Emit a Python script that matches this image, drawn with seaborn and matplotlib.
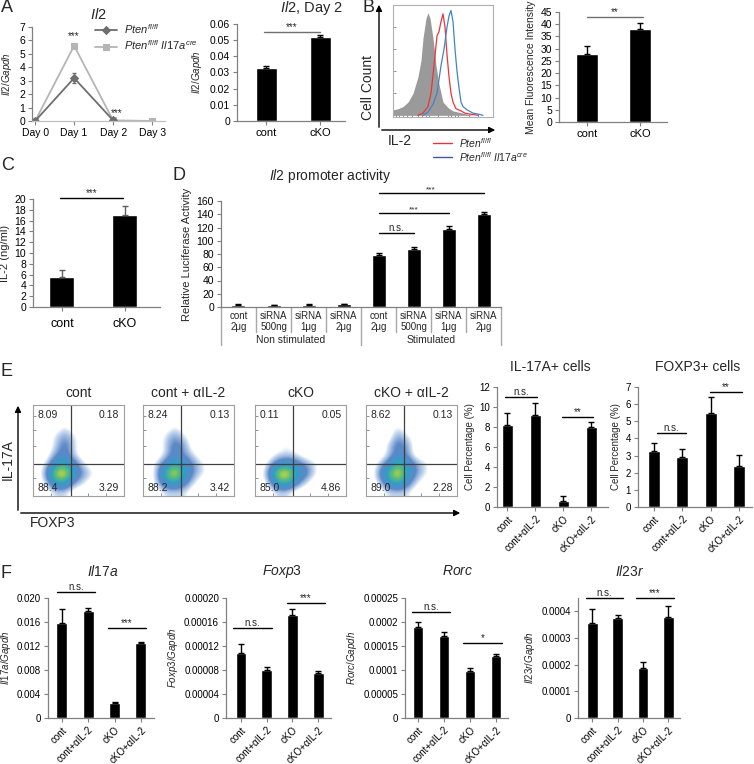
import numpy as np
import matplotlib
matplotlib.use("Agg")
import matplotlib.pyplot as plt
import seaborn as sns
from matplotlib.colors import LinearSegmentedColormap
from matplotlib.patches import FancyArrowPatch
from matplotlib.lines import Line2D

# ---- donnees ----
# A : cinetique Il2
days = ["Day 0", "Day 1", "Day 2", "Day 3"]
il2_ctrl = [0.0, 3.2, 0.05]
il2_ctrl_err = [0.0, 0.35, 0.0]
il2_cko = [0.0, 5.6, 0.05, 0.0]
il2_day2 = [0.033, 0.052]
il2_day2_err = [0.001, 0.001]

# B : histogramme IL-2 (position en % de l'axe, hauteur relative)
grey_x = [0, 5, 10, 15, 20, 25, 28, 30, 33, 35, 37, 40, 43, 46, 50, 55, 60, 65, 70, 75, 80]
grey_y = [0.05, 0.06, 0.08, 0.12, 0.2, 0.35, 0.5, 0.7, 0.88, 0.93, 0.88, 0.7, 0.45, 0.28, 0.12, 0.07, 0.04, 0.03, 0.02, 0.01, 0.0]
red_x = [25, 30, 35, 38, 41, 44, 46, 48, 50, 52, 54, 56, 58, 60, 63, 68, 72, 78, 85]
red_y = [0.0, 0.02, 0.08, 0.2, 0.45, 0.72, 0.76, 0.85, 0.92, 0.8, 0.55, 0.35, 0.2, 0.12, 0.06, 0.04, 0.02, 0.01, 0.0]
blue_x = [30, 35, 40, 44, 48, 51, 54, 56, 58, 60, 62, 64, 66, 68, 70, 74, 80, 86, 90]
blue_y = [0.0, 0.03, 0.1, 0.2, 0.45, 0.6, 0.8, 0.9, 0.95, 0.85, 0.6, 0.4, 0.25, 0.12, 0.08, 0.05, 0.02, 0.01, 0.0]
mfi = [28, 38]
mfi_err = [3, 2.5]

# C : IL-2 ELISA
elisa = [5.6, 17.0]
elisa_err = [1.3, 1.7]

# D : activite du promoteur Il2
luc = [3.5, 3.2, 3.5, 4.5, 79, 87, 118, 140]
luc_err = [0.5, 0.5, 0.5, 0.6, 3, 4, 5, 3]
luc_labels = ["cont\n2μg", "siRNA\n500ng", "siRNA\n1μg", "siRNA\n2μg"] * 2

# E : cytometrie
flow_titles = ["cont", "cont + αIL-2", "cKO", "cKO + αIL-2"]
flow_quads = [["8.09", "0.18", "88.4", "3.29"],
              ["8.24", "0.13", "88.2", "3.42"],
              ["0.11", "0.05", "85.0", "4.86"],
              ["8.62", "0.13", "89.0", "2.28"]]
flow_cont = [[0, 0, 0, 0, 0, 0, 0, 0, 0, 0],
             [0, 0, 0, 0, 0, 0, 0, 0, 0, 0],
             [0, 0, 0, 1, 0, 0, 0, 0, 0, 0],
             [0, 0, 1, 2, 1, 0, 0, 0, 0, 0],
             [0, 0, 1, 3, 1, 0, 0, 0, 0, 0],
             [0, 0, 2, 3, 1, 0, 0, 0, 0, 0],
             [0, 1, 4, 5, 3, 1, 0, 0, 0, 0],
             [0, 2, 8, 9, 4, 2, 1, 0, 0, 0],
             [0, 1, 5, 5, 2, 1, 0, 0, 0, 0],
             [0, 0, 1, 1, 0, 0, 0, 0, 0, 0]]
flow_cont_ab = [[0, 0, 0, 0, 0, 0, 0, 0, 0, 0],
                [0, 0, 0, 0, 0, 0, 0, 0, 0, 0],
                [0, 0, 0, 1, 0, 0, 0, 0, 0, 0],
                [0, 0, 1, 2, 1, 0, 0, 0, 0, 0],
                [0, 0, 1, 3, 2, 0, 0, 0, 0, 0],
                [0, 0, 1, 3, 2, 1, 0, 0, 0, 0],
                [0, 1, 3, 5, 4, 2, 1, 0, 0, 0],
                [0, 1, 6, 9, 5, 2, 1, 0, 0, 0],
                [0, 1, 4, 5, 3, 1, 0, 0, 0, 0],
                [0, 0, 1, 1, 1, 0, 0, 0, 0, 0]]
flow_cko = [[0, 0, 0, 0, 0, 0, 0, 0, 0, 0],
            [0, 0, 0, 0, 0, 0, 0, 0, 0, 0],
            [0, 0, 0, 0, 0, 0, 0, 0, 0, 0],
            [0, 0, 0, 0, 0, 0, 0, 0, 0, 0],
            [0, 0, 0, 1, 0, 0, 0, 0, 0, 0],
            [0, 0, 1, 1, 1, 0, 0, 0, 0, 0],
            [0, 1, 3, 4, 3, 2, 1, 0, 0, 0],
            [0, 2, 8, 9, 5, 3, 1, 0, 0, 0],
            [0, 1, 5, 6, 3, 1, 0, 0, 0, 0],
            [0, 0, 1, 1, 0, 0, 0, 0, 0, 0]]
flow_cko_ab = [[0, 0, 0, 0, 0, 0, 0, 0, 0, 0],
               [0, 0, 0, 0, 0, 0, 0, 0, 0, 0],
               [0, 0, 0, 1, 0, 0, 0, 0, 0, 0],
               [0, 0, 0, 2, 1, 0, 0, 0, 0, 0],
               [0, 0, 1, 3, 2, 0, 0, 0, 0, 0],
               [0, 0, 1, 3, 2, 0, 0, 0, 0, 0],
               [0, 1, 3, 6, 4, 2, 1, 0, 0, 0],
               [0, 2, 6, 9, 5, 2, 1, 0, 0, 0],
               [0, 1, 4, 6, 3, 1, 0, 0, 0, 0],
               [0, 0, 1, 1, 1, 0, 0, 0, 0, 0]]
flow_grids = [flow_cont, flow_cont_ab, flow_cko, flow_cko_ab]

groups = ["cont", "cont+αIL-2", "cKO", "cKO+αIL-2"]
il17a_pos = [8.2, 9.2, 0.6, 8.0]
il17a_pos_err = [1.2, 1.2, 0.5, 0.5]
foxp3_pos = [3.27, 2.92, 5.5, 2.4]
foxp3_pos_err = [0.47, 0.48, 0.93, 0.64]

# F : qPCR
il17a = [0.0158, 0.0178, 0.0025, 0.0125]
il17a_err = [0.0024, 0.0005, 0.0002, 0.0002]
foxp3 = [0.000108, 0.00008, 0.000172, 0.000075]
foxp3_err = [0.000015, 0.000005, 0.00001, 0.000003]
rorc = [0.00019, 0.00017, 0.000097, 0.00013]
rorc_err = [0.00001, 0.00001, 0.000008, 0.000004]
il23r = [0.000355, 0.000374, 0.000187, 0.00038]
il23r_err = [0.000055, 0.000011, 0.000023, 0.00004]

# ---- style ----
sns.set_style("ticks")
plt.rcParams["font.family"] = ["Liberation Sans", "DejaVu Sans"]
plt.rcParams["mathtext.fontset"] = "custom"
plt.rcParams["mathtext.it"] = "Liberation Sans:italic"
plt.rcParams["mathtext.rm"] = "Liberation Sans"

W, H = 754, 764
fig = plt.figure(figsize=(W / 100, H / 100), dpi=100)


def box(x0, y0, x1, y1):
    # rectangle en pixels (origine en haut a gauche)
    return [x0 / W, 1 - y1 / H, (x1 - x0) / W, (y1 - y0) / H]


def fpt(x, y):
    return (x / W, 1 - y / H)


def style(ax, lab=7.5):
    for s in ["top", "right"]:
        ax.spines[s].set_visible(False)
    for s in ["left", "bottom"]:
        ax.spines[s].set_color("#808080")
        ax.spines[s].set_linewidth(0.9)
    ax.tick_params(colors="#808080", labelcolor="black", length=3, width=0.8, labelsize=lab, pad=2)


def bars(ax, vals, errs, width, ecolor="black"):
    n = len(vals)
    sns.barplot(x=list(range(n)), y=vals, color="black", width=width, ax=ax,
                errorbar=None, saturation=1)
    ax.errorbar(range(n), vals, yerr=[[0] * n, errs], fmt="none", ecolor=ecolor,
                elinewidth=1, capsize=2, capthick=1)


def sig(ax, x0, x1, y, txt, color="black", fs=7):
    ax.plot([x0, x1], [y, y], color=color, lw=1, clip_on=False)
    ax.text((x0 + x1) / 2, y, txt, ha="center", va="bottom", fontsize=fs, clip_on=False)


def letter(x, y, s):
    fig.text(*fpt(x, y), s, fontsize=13, va="center", ha="left")


def arrow(p0, p1):
    fig.add_artist(FancyArrowPatch(fpt(*p0), fpt(*p1), transform=fig.transFigure,
                                   arrowstyle="-|>", mutation_scale=9, color="black", lw=1))


# ---- A : cinetique ----
letter(1, 8, "A")
ax = fig.add_axes(box(32, 27, 165, 121))
sns.lineplot(x=[0, 1, 2, 3], y=il2_cko, color="#b5b5b5", marker="s", markersize=5,
             markeredgecolor="#b5b5b5", lw=1.3, ax=ax, label=r"$Pten^{fl/fl}\ Il17a^{cre}$")
sns.lineplot(x=[0, 1, 2], y=il2_ctrl, color="#6e6e6e", marker="D", markersize=4,
             markeredgecolor="#6e6e6e", lw=1.3, ax=ax, label=r"$Pten^{fl/fl}$")
ax.errorbar([0, 1, 2], il2_ctrl, yerr=il2_ctrl_err, fmt="none", ecolor="#6e6e6e", elinewidth=1, capsize=1.5)
style(ax)
ax.set_xlim(-0.08, 3.33)
ax.set_ylim(0, 7)
ax.set_yticks(range(8))
ax.set_xticks([0, 1, 2, 3])
ax.set_xticklabels(days)
ax.spines["bottom"].set_color("#c0c0c0")
ax.set_ylabel(r"$Il2/Gapdh$", fontsize=7, labelpad=4)
ax.set_title(r"$Il2$", fontsize=10.5, pad=6)
ax.text(1, 6.1, "***", ha="center", fontsize=7)
ax.text(2.1, 0.4, "***", ha="center", fontsize=7)
h, l = ax.get_legend_handles_labels()
ax.legend(h[::-1], l[::-1], loc="upper left", bbox_to_anchor=(0.44, 1.1), frameon=False,
          fontsize=8, handlelength=2.0, handletextpad=0.6, labelspacing=0.25, borderaxespad=0)

ax = fig.add_axes(box(237, 24, 345, 121))
bars(ax, il2_day2, il2_day2_err, 0.39)
style(ax)
ax.set_xlim(-0.54, 1.46)
ax.set_ylim(0, 0.06)
ax.set_yticks(np.arange(0, 0.061, 0.01))
ax.set_yticklabels(["0", "0.01", "0.02", "0.03", "0.04", "0.05", "0.06"])
ax.set_xticklabels(["cont", "cKO"], fontsize=8)
ax.set_ylabel(r"$Il2/Gapdh$", fontsize=7, labelpad=4)
fig.text(*fpt(312, 8), r"$Il2$, Day 2", fontsize=10.5, ha="center", va="center")
sig(ax, -0.04, 1.0, 0.055, "***", color="#707070")

# ---- B : histogramme ----
letter(362, 8, "B")
ax = fig.add_axes(box(393, 5, 493, 117))
ax.fill_between(grey_x, grey_y, color="#9a9a9a", lw=0)
sns.lineplot(x=red_x, y=red_y, color="#e8353c", lw=0.9, ax=ax, sort=False)
sns.lineplot(x=blue_x, y=blue_y, color="#3f84c6", lw=0.9, ax=ax, sort=False)
ax.set_xlim(0, 100)
ax.set_ylim(-0.015, 1.0)
for s in ax.spines.values():
    s.set_color("#b0b0b0")
    s.set_linewidth(0.8)
ax.set_xticks([3, 6, 10, 14, 19, 25, 29, 33, 36, 45, 55, 58, 62, 65, 76, 85])
ax.set_yticks([0, 0.2, 0.4, 0.6, 0.8])
ax.tick_params(direction="in", length=2, width=0.6, colors="#808080",
               labelbottom=False, labelleft=False)
ax.set_xlabel("")
ax.set_ylabel("")
arrow((379, 130), (379, 2))
arrow((379, 130), (498, 130))
fig.text(*fpt(368, 87), "Cell Count", rotation=90, fontsize=10, ha="center", va="center")
fig.text(*fpt(400, 141), "IL-2", fontsize=10, ha="center", va="center")
fig.add_artist(Line2D([433 / W, 452 / W], [1 - 143 / H] * 2, color="#e8353c", lw=1))
fig.add_artist(Line2D([433 / W, 452 / W], [1 - 157 / H] * 2, color="#3f5a9c", lw=1))
fig.text(*fpt(459, 143), r"$Pten^{fl/fl}$", fontsize=7.5, va="center")
fig.text(*fpt(459, 157), r"$Pten^{fl/fl}\ Il17a^{cre}$", fontsize=7.5, va="center")

ax = fig.add_axes(box(559, 12, 667, 122))
bars(ax, mfi, mfi_err, 0.4)
style(ax)
ax.set_xlim(-0.53, 1.51)
ax.set_ylim(0, 45)
ax.set_yticks(range(0, 46, 5))
ax.set_xticklabels(["cont", "cKO"], fontsize=8)
ax.set_ylabel("Mean Fluorescence Intensity", fontsize=7.5, labelpad=3)
sig(ax, 0, 1.05, 43, "**", color="#707070")

# ---- C : ELISA ----
letter(1, 165, "C")
ax = fig.add_axes(box(33, 199, 160, 307))
bars(ax, elisa, elisa_err, 0.4, ecolor="#606060")
style(ax)
ax.set_xlim(-0.46, 1.56)
ax.set_ylim(0, 20)
ax.set_yticks(range(0, 21, 2))
ax.set_xticklabels(["cont", "cKO"], fontsize=9)
ax.tick_params(axis="x", pad=5)
ax.set_ylabel("IL-2 (ng/ml)", fontsize=8, labelpad=3)
sig(ax, -0.03, 0.97, 20.2, "***")

# ---- D : luciferase ----
letter(173, 176, "D")
ax = fig.add_axes(box(221, 201, 501, 307))
bars(ax, luc, luc_err, 0.4)
style(ax)
ax.set_xlim(-0.5, 7.5)
ax.set_ylim(0, 160)
ax.set_yticks(range(0, 161, 20))
ax.set_xticks([])
ax.set_ylabel("Relative Luciferase Activity", fontsize=8, labelpad=3)
fig.text(*fpt(330, 176), r"$Il2$ promoter activity", fontsize=10, ha="center", va="center")
sig(ax, 4, 5, 111.7, "n.s.")
sig(ax, 4, 6, 141.9, "***", fs=6)
sig(ax, 4, 7, 172, "***", fs=6)
tr = ax.get_xaxis_transform()
for i, lab in enumerate(luc_labels):
    ax.text(i, -0.135, lab, transform=tr, ha="center", va="center", fontsize=7,
            linespacing=1.05, clip_on=False)
for k in range(9):
    low = -0.36 if k in (0, 4, 8) else -0.24
    ax.plot([k - 0.5, k - 0.5], [0, low], transform=tr, color="#a8a8a8", lw=1, clip_on=False)
ax.text(1.5, -0.31, "Non stimulated", transform=tr, ha="center", va="center", fontsize=7.5)
ax.text(5.5, -0.31, "Stimulated", transform=tr, ha="center", va="center", fontsize=7.5)

# ---- E : cytometrie ----
letter(1, 372, "E")
flow_cmap = LinearSegmentedColormap.from_list(
    "flow", [(0, "white"), (0.07, "white"), (0.12, "#c4d7ee"), (0.25, "#5d88c8"), (0.5, "#2f9fc6"),
             (0.7, "#5fbf74"), (0.85, "#d6d63a"), (1, "#f0a040")])
flow_x = [33, 143, 255, 366]
for i, x0 in enumerate(flow_x):
    ax = fig.add_axes(box(x0, 405, x0 + 91, 496))
    ax.imshow(flow_grids[i], extent=(0, 1, 0, 1), origin="upper", cmap=flow_cmap,
              vmin=0, vmax=9, interpolation="bicubic", aspect="auto")
    ax.axvline(0.42, color="#404040", lw=0.9)
    ax.axhline(0.35, color="#404040", lw=0.9)
    ax.set_xlim(0, 1)
    ax.set_ylim(0, 1)
    for s in ax.spines.values():
        s.set_color("#a0a0a0")
        s.set_linewidth(0.8)
    ax.set_xticks([0.2, 0.42, 0.6, 0.8])
    ax.set_yticks([0.2, 0.35, 0.55, 0.72, 0.88])
    ax.tick_params(direction="in", length=2, width=0.6, colors="#808080",
                   labelbottom=False, labelleft=False)
    q = flow_quads[i]
    ax.text(0.05, 0.95, q[0], fontsize=7.5, va="top", ha="left")
    ax.text(0.95, 0.95, q[1], fontsize=7.5, va="top", ha="right")
    ax.text(0.05, 0.03, q[2], fontsize=7.5, va="bottom", ha="left")
    ax.text(0.95, 0.03, q[3], fontsize=7.5, va="bottom", ha="right")
    ax.set_title(flow_titles[i], fontsize=10, pad=6)
arrow((18, 513), (18, 403))
arrow((18, 513), (463, 513))
fig.text(*fpt(8, 460), "IL-17A", rotation=90, fontsize=10, ha="center", va="center")
fig.text(*fpt(30, 523), "FOXP3", fontsize=10, ha="left", va="center")

ax = fig.add_axes(box(497, 387, 608, 507))
bars(ax, il17a_pos, il17a_pos_err, 0.4)
style(ax, 7)
ax.set_xlim(-0.375, 3.59)
ax.set_ylim(0, 12)
ax.set_yticks(range(0, 13, 2))
ax.set_xticklabels(groups, rotation=45, ha="right", rotation_mode="anchor", fontsize=7)
ax.set_ylabel("Cell Percentage (%)", fontsize=7, labelpad=3)
fig.text(*fpt(550, 367), "IL-17A+ cells", fontsize=10, ha="center", va="center")
sig(ax, -0.1, 1.05, 11, "n.s.")
sig(ax, 1.95, 3.05, 9.0, "**")

ax = fig.add_axes(box(638, 387, 752, 507))
bars(ax, foxp3_pos, foxp3_pos_err, 0.42)
style(ax, 7)
ax.set_xlim(-0.57, 3.46)
ax.set_ylim(0, 7)
ax.set_yticks(range(0, 8))
ax.set_xticklabels(groups, rotation=45, ha="right", rotation_mode="anchor", fontsize=7)
ax.set_ylabel("Cell Percentage (%)", fontsize=7, labelpad=3)
fig.text(*fpt(698, 367), "FOXP3+ cells", fontsize=10, ha="center", va="center")
sig(ax, 0.1, 1.13, 4.3, "n.s.")
sig(ax, 1.98, 3.1, 6.7, "**")

# ---- F : qPCR ----
letter(1, 573, "F")
f_panels = [
    (48, 154, (-0.53, 3.5), il17a, il17a_err, 0.020, [0, 0.004, 0.008, 0.012, 0.016, 0.020],
     ["0", "0.004", "0.008", "0.012", "0.016", "0.020"], r"$Il17a/Gapdh$", r"$Il17a$", 103,
     [(-0.19, 1.25, 0.021, "n.s."), (1.75, 3.19, 0.015, "***")]),
    (226, 331, (-0.58, 3.5), foxp3, foxp3_err, 0.0002, [0, 0.00004, 0.00008, 0.00012, 0.00016, 0.0002],
     ["0", "0.00004", "0.00008", "0.00012", "0.00016", "0.00020"], r"$Foxp3/Gapdh$", r"$Foxp3$", 282,
     [(-0.3, 1.2, 0.00015, "n.s."), (1.79, 3.27, 0.000192, "***")]),
    (405, 508, (-0.5, 3.46), rorc, rorc_err, 0.00025, [0, 0.00005, 0.0001, 0.00015, 0.0002, 0.00025],
     ["0", "0.00005", "0.0001", "0.00015", "0.0002", "0.00025"], r"$Rorc/Gapdh$", r"$Rorc$", 458,
     [(-0.23, 1.23, 0.00022, "n.s."), (1.73, 3.23, 0.000157, "*")]),
    (578, 680, (-0.57, 3.46), il23r, il23r_err, 0.00045, [0, 0.0001, 0.0002, 0.0003, 0.0004],
     ["0", "0.0001", "0.0002", "0.0003", "0.0004"], r"$Il23r/Gapdh$", r"$Il23r$", 630,
     [(-0.26, 1.2, 0.00045, "n.s."), (1.72, 3.22, 0.00045, "***")]),
]
for x0, x1, xl, vals, errs, ytop, yt, ytl, ylab, title, tx, sigs in f_panels:
    ax = fig.add_axes(box(x0, 598, x1, 718))
    bars(ax, vals, errs, 0.42)
    style(ax, 7)
    ax.set_xlim(*xl)
    ax.set_ylim(0, ytop)
    ax.set_yticks(yt)
    ax.set_yticklabels(ytl)
    ax.set_xticklabels(groups, rotation=45, ha="right", rotation_mode="anchor", fontsize=7)
    ax.set_ylabel(ylab, fontsize=7, labelpad=3)
    fig.text(*fpt(tx, 571), title, fontsize=10, ha="center", va="center")
    for a, b, y, t in sigs:
        sig(ax, a, b, y, t)

fig.savefig("out.png", dpi=100)
